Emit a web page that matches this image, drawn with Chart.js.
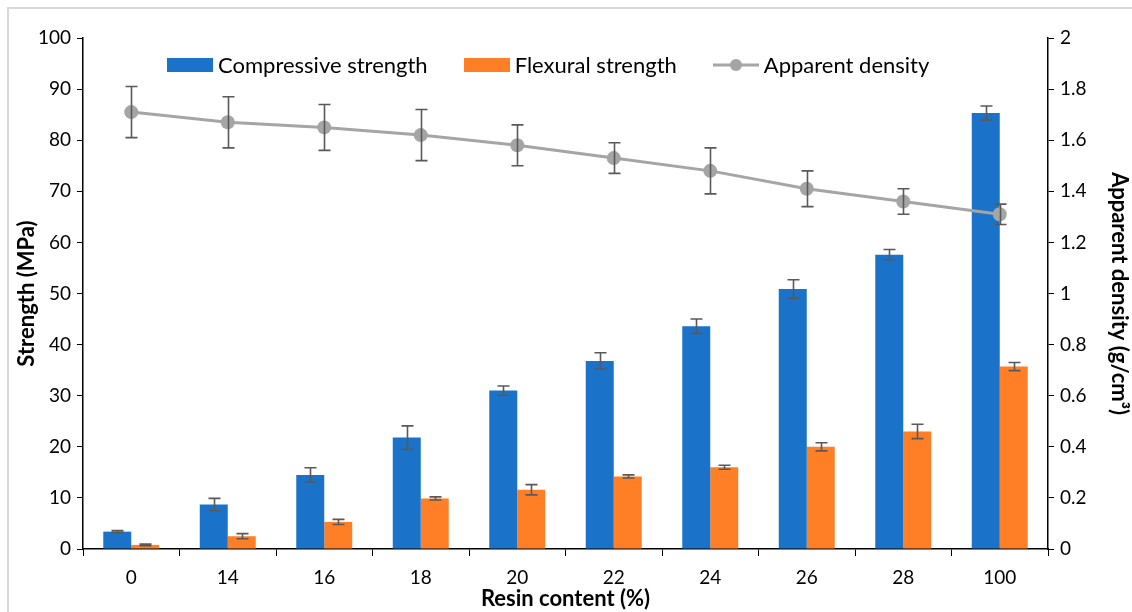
<!DOCTYPE html>
<html>
<head>
<meta charset="utf-8">
<script src="https://cdn.jsdelivr.net/npm/chart.js@4/dist/chart.umd.min.js"></script>
<style>
  html, body { margin: 0; padding: 0; background: #fff; }
  #wrap { position: relative; width: 1132px; height: 612px; overflow: hidden; }
  #frame { position: absolute; left: 7px; top: 7px; right: -5px; bottom: -5px; border-top: 2px solid #d9d9d9; border-left: 2px solid #d9d9d9; }
  canvas { position: absolute; left: 0; top: 0; }
  #legend { position: absolute; left: 167px; top: 51px; display: flex; gap: 36px; font-family: Lato, sans-serif; font-size: 22px; color: #000; }
  #legend .item { display: flex; align-items: center; gap: 5px; white-space: nowrap; }
</style>
</head>
<body>
<div id="wrap">
  <div id="frame"></div>
  <canvas id="myChart" width="1132" height="612"></canvas>
  <div id="legend"></div>
</div>
<script>
const labels = ['0', '14', '16', '18', '20', '22', '24', '26', '28', '100']

const compressive = [3.4, 8.7, 14.5, 21.8, 31.0, 36.8, 43.6, 50.9, 57.6, 85.3]
const compressiveErr = [0.2, 1.2, 1.4, 2.3, 0.9, 1.6, 1.4, 1.8, 1.0, 1.4]

const flexural = [0.8, 2.5, 5.3, 9.9, 11.6, 14.2, 16.0, 20.0, 23.0, 35.7]
const flexuralErr = [0.15, 0.5, 0.5, 0.3, 1.0, 0.3, 0.4, 0.8, 1.4, 0.8]

const density = [1.71, 1.67, 1.65, 1.62, 1.58, 1.53, 1.48, 1.41, 1.36, 1.31]
const densityErr = [0.10, 0.10, 0.09, 0.10, 0.08, 0.06, 0.09, 0.07, 0.05, 0.04]

const blue = '#1a72c9'
const orange = '#ff7f27'
const grey = '#a5a5a5'
const font = 'Lato, "Open Sans", sans-serif'

const errorBars = {
    id: 'errorBars',
    afterDatasetsDraw(chart) {
        const ctx = chart.ctx
        ctx.save()
        ctx.strokeStyle = '#595959'
        ctx.lineWidth = 1.6
        chart.data.datasets.forEach((ds, i) => {
            const meta = chart.getDatasetMeta(i)
            const scale = chart.scales[meta.yAxisID]
            meta.data.forEach((el, j) => {
                const v = ds.data[j], e = ds.errors[j]
                const top = scale.getPixelForValue(v + e)
                const bot = scale.getPixelForValue(v - e)
                const x = Math.round(el.x) + 0.5
                ctx.beginPath()
                ctx.moveTo(x, top); ctx.lineTo(x, bot)
                ctx.moveTo(x - 6, top); ctx.lineTo(x + 6, top)
                ctx.moveTo(x - 6, bot); ctx.lineTo(x + 6, bot)
                ctx.stroke()
            })
        })
        ctx.restore()
    }
}

const ctx = document.getElementById('myChart').getContext('2d')
const myChart = new Chart(ctx, {
    type: 'bar',
    data: {
        labels: labels,
        datasets: [{
            label: 'Compressive strength',
            data: compressive,
            errors: compressiveErr,
            backgroundColor: blue,
            yAxisID: 'y',
            order: 2
        }, {
            label: 'Flexural strength',
            data: flexural,
            errors: flexuralErr,
            backgroundColor: orange,
            yAxisID: 'y',
            order: 2
        }, {
            type: 'line',
            label: 'Apparent density',
            data: density,
            errors: densityErr,
            borderColor: grey,
            backgroundColor: grey,
            borderWidth: 3,
            pointRadius: 7,
            pointBackgroundColor: grey,
            pointBorderWidth: 0,
            yAxisID: 'y1',
            order: 0
        }]
    },
    options: {
        responsive: false,
        animation: false,
        layout: { padding: { top: 38, left: 0, right: 0, bottom: 0 } },
        datasets: { bar: { categoryPercentage: 0.58, barPercentage: 1 } },
        plugins: {
            tooltip: { enabled: false },
            legend: { display: false }
        },
        scales: {
            x: {
                offset: true,
                grid: { drawOnChartArea: false, offset: true, tickLength: 7, color: '#000' },
                border: { color: '#000', width: 1.5 },
                ticks: { color: '#000', font: { family: font, size: 19 }, padding: 10 },
                title: { display: true, text: 'Resin content (%)', color: '#000', font: { family: font, size: 22, weight: 'bold' }, padding: { top: 0, bottom: 0 } },
                afterFit: (s) => { s.height = 63 }
            },
            y: {
                position: 'left',
                min: 0, max: 100,
                ticks: { stepSize: 10, color: '#000', font: { family: font, size: 19 }, padding: 6 },
                grid: { drawOnChartArea: false, tickLength: 6, color: '#000' },
                border: { color: '#000', width: 1.5 },
                title: { display: true, text: 'Strength (MPa)', color: '#000', font: { family: font, size: 22, weight: 'bold' }, padding: { top: 14, bottom: 0 } },
                afterFit: (s) => { s.width = 83 }
            },
            y1: {
                position: 'right',
                min: 0, max: 2,
                ticks: { stepSize: 0.2, color: '#000', font: { family: font, size: 19 }, padding: 6,
                    callback: (v) => Math.round(v * 10) / 10 },
                grid: { drawOnChartArea: false, tickLength: 6, color: '#000' },
                border: { color: '#000', width: 1.5 },
                title: { display: true, text: 'Apparent density (g/cm³)', color: '#000', font: { family: font, size: 22, weight: 'bold' }, padding: { top: 0, bottom: 6 } },
                afterFit: (s) => { s.width = 84 }
            }
        }
    },
    plugins: [errorBars]
})

// html legend built from the datasets
const legendEl = document.getElementById('legend')
myChart.data.datasets.forEach((ds) => {
    const item = document.createElement('div')
    item.className = 'item'
    const icon = document.createElement('canvas')
    icon.width = 46; icon.height = 14
    icon.style.position = 'static'
    const g = icon.getContext('2d')
    if (ds.type === 'line') {
        g.strokeStyle = ds.borderColor; g.lineWidth = 3
        g.beginPath(); g.moveTo(0, 7); g.lineTo(46, 7); g.stroke()
        g.fillStyle = ds.borderColor
        g.beginPath(); g.arc(23, 7, 6, 0, Math.PI * 2); g.fill()
    } else {
        g.fillStyle = ds.backgroundColor
        g.fillRect(0, 0, 46, 14)
    }
    const text = document.createElement('span')
    text.textContent = ds.label
    item.appendChild(icon)
    item.appendChild(text)
    legendEl.appendChild(item)
})
</script>
</body>
</html>
